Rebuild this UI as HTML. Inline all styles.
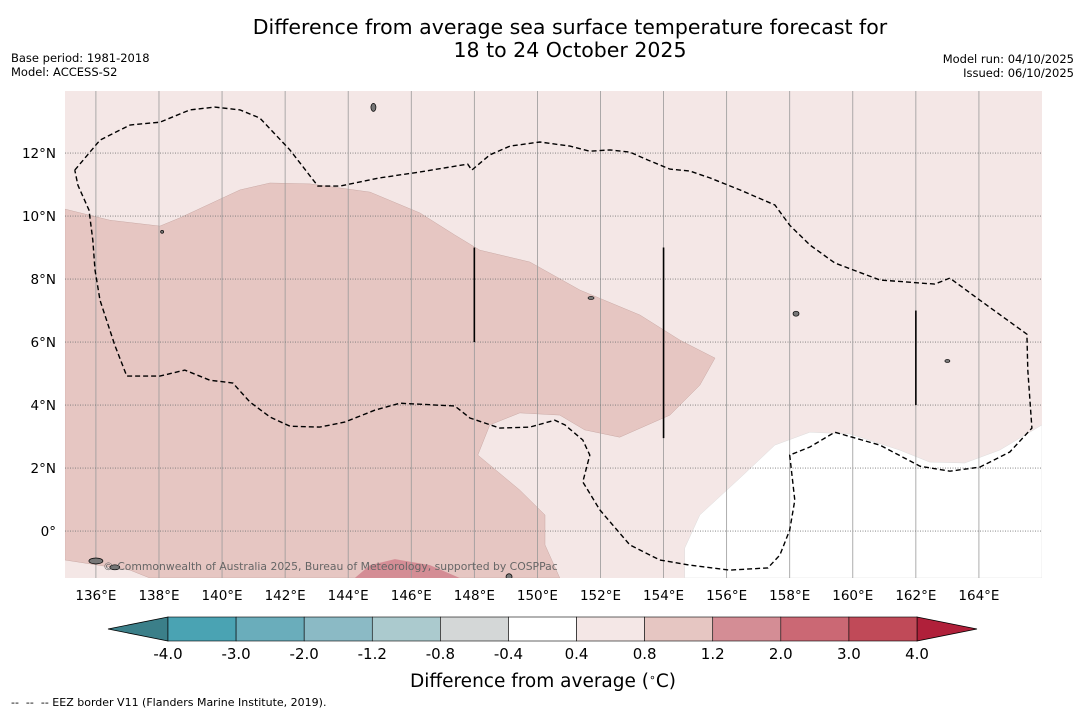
<!DOCTYPE html>
<html><head><meta charset="utf-8"><style>
body{margin:0;background:#fff;width:1085px;height:713px;overflow:hidden;font-family:"Liberation Sans","DejaVu Sans",sans-serif}
</style></head><body>
<svg id="c" width="1085" height="713" xmlns="http://www.w3.org/2000/svg" font-family="DejaVu Sans, Liberation Sans, sans-serif">
<text x="570" y="34" font-size="20.5" text-anchor="middle">Difference from average sea surface temperature forecast for</text>
<text x="570" y="57" font-size="20.5" text-anchor="middle">18 to 24 October 2025</text>
<text x="11" y="62" font-size="11.5">Base period: 1981-2018</text>
<text x="11" y="76" font-size="11.5">Model: ACCESS-S2</text>
<text x="1074" y="63" font-size="11.5" text-anchor="end">Model run: 04/10/2025</text>
<text x="1074" y="77" font-size="11.5" text-anchor="end">Issued: 06/10/2025</text>
<g id="map"></g>
<g id="cbar"></g>
<text x="543" y="687" font-size="18.5" text-anchor="middle">Difference from average (<tspan baseline-shift="super" font-size="11">∘</tspan>C)</text>
<text x="11" y="706" font-size="11" xml:space="preserve">--  --  -- EEZ border V11 (Flanders Marine Institute, 2019).</text>
</svg>
<script>
const NS="http://www.w3.org/2000/svg";
const lonTicks=[136,138,140,142,144,146,148,150,152,154,156,158,160,162,164];
const latTicks=[0,2,4,6,8,10,12];
const cbLevels=["-4.0","-3.0","-2.0","-1.2","-0.8","-0.4","0.4","0.8","1.2","2.0","3.0","4.0"];
const cbColors=["#4aa3b3","#6aadbb","#8bbac5","#abcace","#d4d7d7","#ffffff","#f4e7e6","#e6c6c2","#d48d95","#cb6874","#c04a58"];
const anomaly08=[[135.02,10.22],[136.44,9.87],[138.03,9.68],[138.66,9.94],[140.57,10.83],[141.52,11.05],[142.79,11.02],[144.69,10.76],[146.27,10.1],[147.38,9.4],[148.17,8.92],[149.76,8.54],[151.35,7.65],[153.25,6.86],[154.52,6.06],[155.63,5.49],[155.15,4.63],[154.2,3.68],[152.61,2.98],[151.5,3.21],[150.71,3.68],[149.44,3.75],[148.49,3.37],[148.11,2.41],[149.44,1.3],[150.24,0.51],[150.24,-0.44],[150.71,-1.49],[137.71,-1.49],[137.08,-1.24],[135.02,-0.92]];
const anomalyNeutral=[[154.67,-1.49],[154.67,-0.54],[155.15,0.51],[156.42,1.68],[157.53,2.73],[158.64,3.14],[159.91,3.08],[161.49,2.57],[162.44,2.19],[163.55,2.16],[164.66,2.57],[166,3.37],[166,-1.49]];
const anomaly20=[[144.21,-1.49],[144.69,-1.08],[145.48,-0.89],[146.59,-1.08],[147.54,-1.49]];
const eez=[[135.33,11.46],[136.13,12.41],[137.08,12.89],[138.03,12.98],[138.98,13.37],[139.77,13.46],[140.57,13.37],[141.2,13.11],[142.15,12.1],[143.04,10.95],[143.74,10.95],[145,11.21],[146.27,11.4],[147.79,11.65],[147.92,11.46],[148.49,11.94],[149.13,12.22],[150.08,12.35],[151.03,12.22],[151.66,12.06],[152.3,12.1],[152.93,12.03],[153.5,11.78],[154.2,11.49],[154.83,11.43],[155.47,11.21],[156.42,10.83],[157.53,10.35],[158,9.71],[158.64,9.08],[159.43,8.51],[160.86,7.97],[162.6,7.84],[163.08,8.03],[164.03,7.33],[165.52,6.25],[165.55,5.11],[165.68,3.27],[164.98,2.51],[164.03,2.03],[163.08,1.9],[162.13,2.06],[160.86,2.73],[160.29,2.89],[159.43,3.14],[158.64,2.67],[158,2.41],[158.16,0.98],[158,0.03],[157.69,-0.76],[157.31,-1.17],[156.1,-1.24],[154.83,-1.08],[153.88,-0.92],[152.93,-0.44],[151.98,0.67],[151.44,1.56],[151.66,2.41],[151.44,2.89],[150.87,3.37],[150.55,3.52],[149.76,3.3],[148.81,3.27],[147.86,3.59],[147.38,3.97],[145.64,4.06],[144.85,3.84],[143.89,3.46],[143.1,3.3],[142.15,3.33],[141.52,3.62],[140.88,4.1],[140.34,4.7],[139.61,4.79],[138.82,5.11],[138.03,4.92],[136.98,4.92],[136.6,5.9],[136.13,7.33],[135.97,8.29],[135.9,9.24],[135.78,10.19],[135.43,10.98],[135.33,11.46]];
const boundaries=[[148,9,6],[154,9,2.95],[162,7,4]];
const islands=[[144.8,13.45,2.5,4],[158.2,6.9,3,2.5],[163.0,5.4,2.5,1.5],[151.7,7.4,3,1.5],[136.0,-0.95,7,3],[136.6,-1.15,5,2.5],[149.1,-1.45,3,3],[138.1,9.5,1.5,1.5]];
const X0=65,X1=1042,Y0=91,Y1=578;
const lonMin=135.02,lonMax=166.0,latMin=-1.49,latMax=13.97;
const xs=l=>X0+(l-lonMin)/(lonMax-lonMin)*(X1-X0);
const ys=l=>Y1-(l-latMin)/(latMax-latMin)*(Y1-Y0);
function mk(t,a,p){const e=document.createElementNS(NS,t);for(const k in a)e.setAttribute(k,a[k]);p.appendChild(e);return e;}
const map=document.getElementById('map');
const clip=mk('clipPath',{id:'mc'},map);mk('rect',{x:X0,y:Y0,width:X1-X0,height:Y1-Y0},clip);
const g=mk('g',{'clip-path':'url(#mc)'},map);
let r=mk('rect',{x:X0,y:Y0,width:X1-X0,height:Y1-Y0,fill:'#f4e7e6'},g);


const pts=a=>a.map(p=>xs(p[0]).toFixed(1)+','+ys(p[1]).toFixed(1)).join(' ');
let p=mk('polygon',{points:pts(anomaly08),fill:'#e6c6c2',stroke:'#c9a9a5','stroke-width':0.5},g);


p=mk('polygon',{points:pts(anomalyNeutral),fill:'#ffffff',stroke:'#ddd','stroke-width':0.5},g);


p=mk('polygon',{points:pts(anomaly20),fill:'#d48d95'},g);


lonTicks.forEach(l=>{const ln=mk('line',{x1:xs(l),x2:xs(l),y1:Y0,y2:Y1,stroke:'#999','stroke-width':0.8},g);


const t=mk('text',{x:xs(l),y:Y1+22,'font-size':13.5,'text-anchor':'middle'},map);t.textContent=l+'°E';

});
latTicks.forEach(l=>{const ln=mk('line',{x1:X0,x2:X1,y1:ys(l),y2:ys(l),stroke:'#777','stroke-width':0.8,'stroke-dasharray':'1,1.5'},g);


const t=mk('text',{x:X0-9,y:ys(l)+5,'font-size':13.5,'text-anchor':'end'},map);t.textContent=l===0?'0°':l+'°N';

});
islands.forEach(i=>{const e=mk('ellipse',{cx:xs(i[0]),cy:ys(i[1]),rx:i[2],ry:i[3],fill:'#777',stroke:'#000','stroke-width':0.7},g);

});
boundaries.forEach(b=>{const ln=mk('line',{x1:xs(b[0]),x2:xs(b[0]),y1:ys(b[1]),y2:ys(b[2]),stroke:'#000','stroke-width':1.6},g);

});
p=mk('polyline',{points:pts(eez),fill:'none',stroke:'#000','stroke-width':1.4,'stroke-dasharray':'5,3'},g);


let t=mk('text',{x:103,y:570,'font-size':10.8,fill:'#666'},g);t.textContent='© Commonwealth of Australia 2025, Bureau of Meteorology, supported by COSPPac';


const cb=document.getElementById('cbar');
const CB0=168,CB1=917,CBY=617,CBH=24;
const segW=(CB1-CB0)/cbColors.length;
p=mk('polygon',{points:`${CB0},${CBY} ${CB0-60},${CBY+CBH/2} ${CB0},${CBY+CBH}`,fill:'#3b7f89',stroke:'#000','stroke-width':0.8},cb);


p=mk('polygon',{points:`${CB1},${CBY} ${CB1+60},${CBY+CBH/2} ${CB1},${CBY+CBH}`,fill:'#b0203a',stroke:'#000','stroke-width':0.8},cb);


cbColors.forEach((c,i)=>{const s=mk('rect',{x:CB0+i*segW,y:CBY,width:segW,height:CBH,fill:c,stroke:'#000','stroke-width':0.6},cb);

});
cbLevels.forEach((v,i)=>{const tt=mk('text',{x:CB0+i*segW,y:CBY+CBH+18,'font-size':15,'text-anchor':'middle'},cb);tt.textContent=v;

});
</script>
</body></html>
